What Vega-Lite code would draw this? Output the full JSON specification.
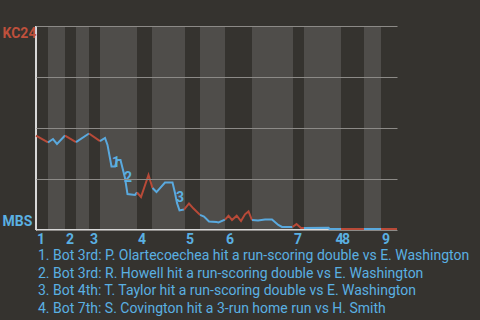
{
  "$schema": "https://vega.github.io/schema/vega-lite/v6.json",
  "width": 361,
  "height": 204,
  "autosize": {"type": "none"},
  "padding": {"left": 36, "top": 26, "right": 83, "bottom": 90},
  "background": "#35332f",
  "config": {"view": {"stroke": null}, "font": "Roboto"},
  "title": {
    "text": [
      "1. Bot 3rd: P. Olartecoechea hit a run-scoring double vs E. Washington",
      "2. Bot 3rd: R. Howell hit a run-scoring double vs E. Washington",
      "3. Bot 4th: T. Taylor hit a run-scoring double vs E. Washington",
      "4. Bot 7th: S. Covington hit a 3-run home run vs H. Smith"
    ],
    "orient": "bottom",
    "anchor": "start",
    "frame": "group",
    "align": "left",
    "baseline": "top",
    "fontSize": 14,
    "fontWeight": "normal",
    "color": "#5ab0e2",
    "lineHeight": 17.7,
    "offset": 2,
    "dx": 2
  },
  "datasets": {
    "halves": [
      {"start": 12, "end": 29},
      {"start": 40, "end": 53},
      {"start": 64, "end": 101},
      {"start": 116, "end": 149},
      {"start": 164, "end": 189},
      {"start": 216, "end": 257},
      {"start": 268, "end": 305},
      {"start": 328, "end": 345}
    ],
    "innings": [
      {"inning": "1", "start": 0},
      {"inning": "2", "start": 29},
      {"inning": "3", "start": 53},
      {"inning": "4", "start": 101},
      {"inning": "5", "start": 149},
      {"inning": "6", "start": 189},
      {"inning": "7", "start": 257},
      {"inning": "8", "start": 305},
      {"inning": "9", "start": 345}
    ],
    "events": [
      {"n": "1", "x": 80, "p": 0.328},
      {"n": "2", "x": 92, "p": 0.255},
      {"n": "3", "x": 144, "p": 0.157},
      {"n": "4", "x": 303.5, "p": -0.049}
    ],
    "wp": [
      {"h": 1, "team": "KC24", "x": 0, "p": 0.463},
      {"h": 1, "team": "KC24", "x": 12, "p": 0.429},
      {"h": 2, "team": "MBS", "x": 12, "p": 0.429},
      {"h": 2, "team": "MBS", "x": 17, "p": 0.446},
      {"h": 2, "team": "MBS", "x": 21, "p": 0.422},
      {"h": 2, "team": "MBS", "x": 29, "p": 0.463},
      {"h": 3, "team": "KC24", "x": 29, "p": 0.463},
      {"h": 3, "team": "KC24", "x": 40, "p": 0.431},
      {"h": 4, "team": "MBS", "x": 40, "p": 0.431},
      {"h": 4, "team": "MBS", "x": 53, "p": 0.473},
      {"h": 5, "team": "KC24", "x": 53, "p": 0.473},
      {"h": 5, "team": "KC24", "x": 64, "p": 0.436},
      {"h": 6, "team": "MBS", "x": 64, "p": 0.436},
      {"h": 6, "team": "MBS", "x": 69, "p": 0.451},
      {"h": 6, "team": "MBS", "x": 71.5, "p": 0.417},
      {"h": 6, "team": "MBS", "x": 75.5, "p": 0.311},
      {"h": 6, "team": "MBS", "x": 79, "p": 0.311},
      {"h": 6, "team": "MBS", "x": 81, "p": 0.343},
      {"h": 6, "team": "MBS", "x": 84.5, "p": 0.343},
      {"h": 6, "team": "MBS", "x": 89, "p": 0.255},
      {"h": 6, "team": "MBS", "x": 91.5, "p": 0.176},
      {"h": 6, "team": "MBS", "x": 99, "p": 0.172},
      {"h": 6, "team": "MBS", "x": 101, "p": 0.184},
      {"h": 7, "team": "KC24", "x": 101, "p": 0.184},
      {"h": 7, "team": "KC24", "x": 105, "p": 0.162},
      {"h": 7, "team": "KC24", "x": 112.5, "p": 0.27},
      {"h": 7, "team": "KC24", "x": 116.5, "p": 0.206},
      {"h": 8, "team": "MBS", "x": 116.5, "p": 0.206},
      {"h": 8, "team": "MBS", "x": 120.5, "p": 0.186},
      {"h": 8, "team": "MBS", "x": 129, "p": 0.233},
      {"h": 8, "team": "MBS", "x": 136.5, "p": 0.233},
      {"h": 8, "team": "MBS", "x": 139, "p": 0.181},
      {"h": 8, "team": "MBS", "x": 141, "p": 0.132},
      {"h": 8, "team": "MBS", "x": 143.5, "p": 0.096},
      {"h": 8, "team": "MBS", "x": 148, "p": 0.1},
      {"h": 9, "team": "KC24", "x": 148, "p": 0.1},
      {"h": 9, "team": "KC24", "x": 153, "p": 0.13},
      {"h": 9, "team": "KC24", "x": 157.5, "p": 0.105},
      {"h": 9, "team": "KC24", "x": 164, "p": 0.074},
      {"h": 10, "team": "MBS", "x": 164, "p": 0.074},
      {"h": 10, "team": "MBS", "x": 168, "p": 0.066},
      {"h": 10, "team": "MBS", "x": 173, "p": 0.042},
      {"h": 10, "team": "MBS", "x": 180.5, "p": 0.039},
      {"h": 10, "team": "MBS", "x": 182.5, "p": 0.037},
      {"h": 10, "team": "MBS", "x": 189, "p": 0.051},
      {"h": 11, "team": "KC24", "x": 189, "p": 0.051},
      {"h": 11, "team": "KC24", "x": 192.5, "p": 0.07},
      {"h": 11, "team": "KC24", "x": 196, "p": 0.049},
      {"h": 11, "team": "KC24", "x": 200.7, "p": 0.07},
      {"h": 11, "team": "KC24", "x": 205, "p": 0.044},
      {"h": 11, "team": "KC24", "x": 209, "p": 0.077},
      {"h": 11, "team": "KC24", "x": 212.5, "p": 0.091},
      {"h": 11, "team": "KC24", "x": 216, "p": 0.049},
      {"h": 12, "team": "MBS", "x": 216, "p": 0.049},
      {"h": 12, "team": "MBS", "x": 222, "p": 0.047},
      {"h": 12, "team": "MBS", "x": 229, "p": 0.051},
      {"h": 12, "team": "MBS", "x": 236, "p": 0.051},
      {"h": 12, "team": "MBS", "x": 242.3, "p": 0.025},
      {"h": 12, "team": "MBS", "x": 246, "p": 0.015},
      {"h": 12, "team": "MBS", "x": 256.5, "p": 0.015},
      {"h": 13, "team": "KC24", "x": 256.5, "p": 0.015},
      {"h": 13, "team": "KC24", "x": 260.5, "p": 0.029},
      {"h": 13, "team": "KC24", "x": 265, "p": 0.01},
      {"h": 13, "team": "KC24", "x": 268, "p": 0.01},
      {"h": 14, "team": "MBS", "x": 268, "p": 0.01},
      {"h": 14, "team": "MBS", "x": 292.5, "p": 0.011},
      {"h": 14, "team": "MBS", "x": 293.5, "p": 0.005},
      {"h": 14, "team": "MBS", "x": 305, "p": 0.005},
      {"h": 15, "team": "KC24", "x": 305, "p": 0.005},
      {"h": 15, "team": "KC24", "x": 328, "p": 0.005},
      {"h": 16, "team": "MBS", "x": 328, "p": 0.005},
      {"h": 16, "team": "MBS", "x": 345, "p": 0.005},
      {"h": 17, "team": "KC24", "x": 345, "p": 0.005},
      {"h": 17, "team": "KC24", "x": 361, "p": 0.005}
    ]
  },
  "layer": [
    {
      "data": {"name": "halves"},
      "mark": {"type": "rect", "color": "#4f4d4a"},
      "encoding": {
        "x": {"field": "start", "type": "quantitative", "scale": {"domain": [0, 361], "nice": false, "zero": false}, "axis": null},
        "x2": {"field": "end"},
        "y": {"datum": 1, "type": "quantitative", "scale": {"domain": [0, 1], "nice": false}},
        "y2": {"datum": 0}
      }
    },
    {
      "data": {"name": "wp"},
      "mark": {"type": "rule", "color": "#d9d9d9", "strokeWidth": 1.5},
      "encoding": {"y": {"datum": 0, "type": "quantitative"}}
    },
    {
      "data": {"name": "wp"},
      "mark": {"type": "rule", "color": "#d9d9d9", "strokeWidth": 1.5},
      "encoding": {"x": {"datum": 0, "type": "quantitative"}}
    },
    {
      "data": {"name": "wp"},
      "mark": {"type": "line", "strokeWidth": 2, "interpolate": "linear"},
      "encoding": {
        "x": {"field": "x", "type": "quantitative"},
        "y": {
          "field": "p",
          "type": "quantitative",
          "axis": {
            "values": [0, 0.25, 0.5, 0.75, 1],
            "grid": true,
            "gridColor": "#8c8a87",
            "gridWidth": 1,
            "domain": false,
            "ticks": false,
            "title": null,
            "zindex": 1,
            "labelExpr": "datum.value == 1 ? 'KC24' : (datum.value == 0 ? 'MBS' : '')",
            "labelAlign": "left",
            "labelPadding": 34,
            "labelFont": "Roboto",
            "labelFontWeight": "bold",
            "labelFontSize": 14,
            "labelBaseline": "middle",
            "labelFlush": false,
            "labelBound": false,
            "labelOverlap": false,
            "labelColor": {"condition": {"test": "datum.value == 1", "value": "#be503c"}, "value": "#5ab0e2"},
            "labelOffset": {"condition": {"test": "datum.value == 1", "value": 7}, "value": -9}
          }
        },
        "detail": {"field": "h"},
        "color": {"field": "team", "type": "nominal", "scale": {"domain": ["KC24", "MBS"], "range": ["#b84a38", "#5aa9de"]}, "legend": null}
      }
    },
    {
      "data": {"name": "innings"},
      "mark": {"type": "text", "align": "left", "baseline": "top", "dx": 1, "dy": 3, "fontSize": 14, "fontWeight": "bold", "color": "#5ab0e2"},
      "encoding": {
        "x": {"field": "start", "type": "quantitative"},
        "y": {"datum": 0, "type": "quantitative"},
        "text": {"field": "inning"}
      }
    },
    {
      "data": {"name": "events"},
      "mark": {"type": "text", "align": "center", "baseline": "middle", "fontSize": 14, "fontWeight": "bold", "color": "#5ab0e2"},
      "encoding": {
        "x": {"field": "x", "type": "quantitative"},
        "y": {"field": "p", "type": "quantitative"},
        "text": {"field": "n"}
      }
    }
  ]
}
